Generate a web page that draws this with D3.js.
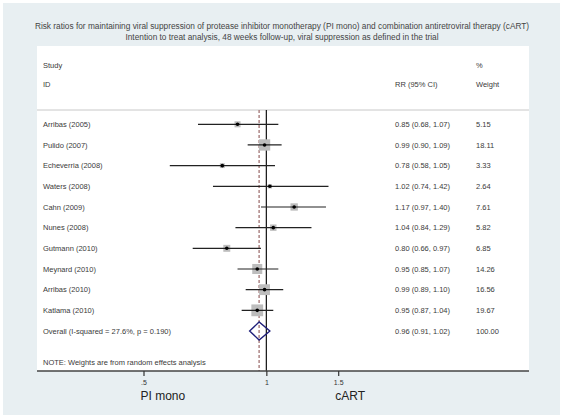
<!DOCTYPE html>
<html><head><meta charset="utf-8">
<script src="https://cdn.jsdelivr.net/npm/d3@7"></script>
<style>body{margin:0;background:#fff}svg{display:block}text{font-family:"Liberation Sans",Arial,sans-serif}</style>
</head><body><svg id="c" width="563" height="418"></svg>
<script>
const studies = ["Arribas (2005)","Pulido (2007)","Echeverria (2008)","Waters (2008)","Cahn (2009)","Nunes (2008)","Gutmann (2010)","Meynard (2010)","Arribas (2010)","Katlama (2010)"];
const rr = [0.85,0.99,0.78,1.02,1.17,1.04,0.80,0.95,0.99,0.95];
const lo = [0.68,0.90,0.58,0.74,0.97,0.84,0.66,0.85,0.89,0.87];
const hi = [1.07,1.09,1.05,1.42,1.40,1.29,0.97,1.07,1.10,1.04];
const weights = [5.15,18.11,3.33,2.64,7.61,5.82,6.85,14.26,16.56,19.67];
const overallLabel = "Overall  (I-squared = 27.6%, p = 0.190)";
const overall = [0.96,0.91,1.02];
const overallWeight = 100.00;
const ticks = [0.5,1,1.5];
const tickLabels = [".5","1","1.5"];
const titleLines = ["Risk ratios for maintaining viral suppression of protease inhibitor monotherapy (PI mono) and combination antiretroviral therapy (cART)","Intention to treat analysis, 48 weeks follow-up, viral suppression as defined in the trial"];

const svg = d3.select("#c");
const fmt = d3.format(".2f");
svg.append("rect").attr("x",3).attr("y",3).attr("width",557).attr("height",412).attr("fill","#e8eff2");
const plotL=37, plotR=529, plotT=46, axisY=371;
svg.append("rect").attr("x",plotL).attr("y",plotT).attr("width",plotR-plotL).attr("height",axisY-plotT).attr("fill","#fff");

titleLines.forEach((t,i)=>svg.append("text").attr("x",282).attr("y",26+i*11).attr("dy","0.35em")
  .attr("text-anchor","middle").attr("font-size",8.3).attr("fill","#444").text(t));

const x = d3.scaleLog().domain([0.5,1.5]).range([143.5,338.2]);
const rowsY = d3.scaleLinear().domain([0,10]).range([124.3,331]);

const txt=(xx,yy,t)=>svg.append("text").attr("x",xx).attr("y",yy).attr("dy","0.35em").attr("font-size",7.5).attr("fill","#3a3a3a").text(t);
txt(43,65,"Study"); txt(43,84,"ID"); txt(395,84,"RR (95% CI)"); txt(476,65,"%"); txt(476,84,"Weight");
svg.append("line").attr("x1",plotL).attr("x2",plotR).attr("y1",110).attr("y2",110).attr("stroke","#c8c8c8").attr("stroke-width",1);

// reference lines
svg.append("line").attr("x1",x(1)).attr("x2",x(1)).attr("y1",110).attr("y2",axisY).attr("stroke","#111").attr("stroke-width",1.2);
svg.append("line").attr("x1",x(overall[0])).attr("x2",x(overall[0])).attr("y1",110).attr("y2",axisY)
  .attr("stroke","#a87c7c").attr("stroke-width",1.4).attr("stroke-dasharray","3,2");

const g = svg.append("g");
studies.forEach((s,i)=>{
  const y=rowsY(i), side=2.66*Math.sqrt(weights[i]);
  g.append("rect").attr("x",x(rr[i])-side/2).attr("y",y-side/2).attr("width",side).attr("height",side).attr("fill","#bdbdbd");
  g.append("line").attr("x1",x(lo[i])).attr("x2",x(hi[i])).attr("y1",y).attr("y2",y).attr("stroke","#222").attr("stroke-width",1.2);
  g.append("circle").attr("cx",x(rr[i])).attr("cy",y).attr("r",1.8).attr("fill","#000");
  txt(43,y,s);
  txt(395,y,`${fmt(rr[i])} (${fmt(lo[i])}, ${fmt(hi[i])})`);
  txt(476,y,fmt(weights[i]));
});
const oy=rowsY(10);
svg.append("path").attr("d",`M${x(overall[1])},${oy}L${x(overall[0])},${oy-9}L${x(overall[2])},${oy}L${x(overall[0])},${oy+9}Z`)
  .attr("fill","none").attr("stroke","#1f1f7a").attr("stroke-width",1.4);
txt(43,oy,overallLabel);
txt(395,oy,`${fmt(overall[0])} (${fmt(overall[1])}, ${fmt(overall[2])})`);
txt(476,oy,fmt(overallWeight));
txt(43,362.5,"NOTE: Weights are from random effects analysis");

// axis
svg.append("line").attr("x1",plotL).attr("x2",plotR).attr("y1",axisY).attr("y2",axisY).attr("stroke","#444").attr("stroke-width",1.5);
const ax = svg.append("g").attr("transform",`translate(0,${axisY})`)
  .call(d3.axisBottom(x).tickValues(ticks).tickFormat((d,i)=>tickLabels[i]).tickSize(5).tickPadding(4));
ax.select(".domain").remove();
ax.selectAll(".tick line").attr("stroke","#333").attr("stroke-width",1.2);
ax.selectAll(".tick text").attr("font-size",7).attr("fill","#333").attr("font-family","Liberation Sans, Arial, sans-serif");
svg.append("text").attr("x",x(0.5)-3).attr("y",396).attr("dy","0.35em").attr("font-size",12).attr("fill","#222").text("PI mono");
svg.append("text").attr("x",x(1.5)-3).attr("y",396).attr("dy","0.35em").attr("font-size",12).attr("fill","#222").text("cART");
</script></body></html>
